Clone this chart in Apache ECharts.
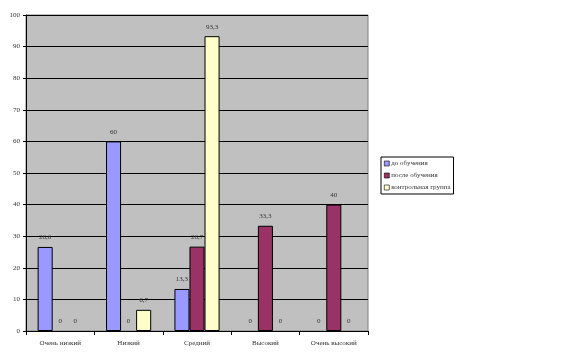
<!DOCTYPE html>
<html><head><meta charset="utf-8">
<script src="https://cdn.jsdelivr.net/npm/echarts@6/dist/echarts.min.js"></script>
<style>html,body{margin:0;padding:0;background:#fff}#c{width:562px;height:359px}</style>
</head><body><div id="c"></div>
<script>
var categories = ['Очень низкий', 'Низкий', 'Средний', 'Высокий', 'Очень высокий'];
var seriesNames = ['до обучения', 'после обучения', 'контрольная группа'];
var before = [26.6, 60, 13.3, 0, 0];
var after = [0, 0, 26.7, 33.3, 40];
var control = [0, 6.7, 93.3, 0, 0];
var yTicks = [0, 10, 20, 30, 40, 50, 60, 70, 80, 90, 100];

var colors = ['#9999FF', '#993366', '#FFFFCC'];
var font = 'Liberation Serif';
function mk(name, data, color) {
  return {
    name: name, type: 'bar', barGap: '0%', barCategoryGap: '34%',
    data: data.map(function (v) {
      return v === 0 ? { value: v, itemStyle: { borderWidth: 0, color: 'transparent' } } : v;
    }),
    itemStyle: { color: color, borderColor: '#000', borderWidth: 1 },
    label: { show: true, position: 'top', distance: 6, fontFamily: font, fontSize: 7, color: '#333',
      formatter: function (p) { return String(p.value).replace('.', ','); } }
  };
}
var chart = echarts.init(document.getElementById('c'));
chart.setOption({
  animation: false,
  grid: { left: 26, right: 194, top: 15, bottom: 28, show: true, backgroundColor: '#C0C0C0', borderColor: '#808080', borderWidth: 1 },
  legend: {
    orient: 'vertical', left: 381, top: 157,
    data: seriesNames.map(function (n, i) { return { name: n, itemStyle: { color: colors[i], borderColor: '#000', borderWidth: 0.6 } }; }),
    icon: 'rect', itemWidth: 5, itemHeight: 5, itemGap: 5,
    borderColor: '#000', borderWidth: 1, padding: [3, 3, 3, 3],
    textStyle: { fontFamily: font, fontSize: 7, color: '#333', padding: [0, 0, 0, -3] }
  },
  xAxis: {
    type: 'category', data: categories,
    axisLine: { lineStyle: { color: '#000' } },
    axisTick: { show: true, length: 4, lineStyle: { color: '#000' } },
    axisLabel: { fontFamily: font, fontSize: 7, color: '#333', margin: 9 }
  },
  yAxis: {
    type: 'value', min: yTicks[0], max: yTicks[yTicks.length - 1], interval: 10,
    axisLine: { show: true, lineStyle: { color: '#000' } },
    axisTick: { show: true, length: 3, lineStyle: { color: '#000' } },
    splitLine: { lineStyle: { color: '#000', width: 1 } },
    axisLabel: { fontFamily: font, fontSize: 7, color: '#333', margin: 6 }
  },
  series: [mk(seriesNames[0], before, colors[0]), mk(seriesNames[1], after, colors[1]), mk(seriesNames[2], control, colors[2])]
});
</script></body></html>
